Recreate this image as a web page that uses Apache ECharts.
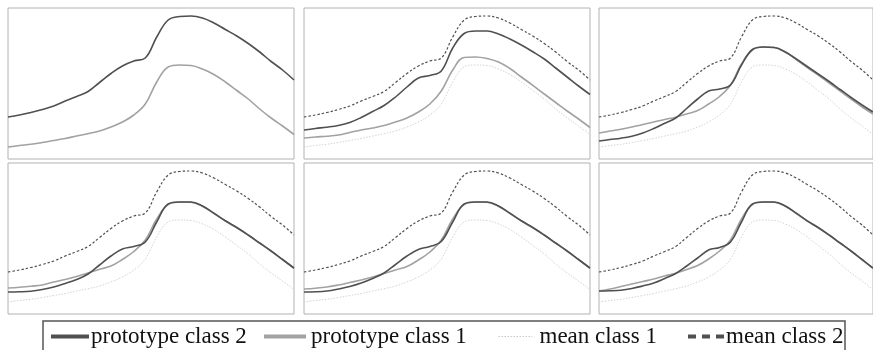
<!DOCTYPE html>
<html>
<head>
<meta charset="utf-8">
<script src="https://cdn.jsdelivr.net/npm/echarts@6.0.0/dist/echarts.min.js"></script>
<style>
  html, body { margin: 0; padding: 0; background: #fff; }
  #chart { width: 873px; height: 350px; }
</style>
</head>
<body>
<div id="chart"></div>
<script>
// sample positions along the signal (shared by all curves)
const xs = [0, 4, 8, 12, 16, 20, 24, 28, 32, 36, 40, 44, 48, 52, 56, 60, 64, 68, 72, 76, 80, 84, 88, 92, 96, 100];

// class means (fixed over all iterations)
const meanClass1 = [0.12, 0.135, 0.147, 0.165, 0.185, 0.205, 0.23, 0.253, 0.28, 0.32, 0.37, 0.44, 0.55, 0.77, 0.92, 0.94, 0.935, 0.90, 0.845, 0.77, 0.685, 0.60, 0.50, 0.41, 0.33, 0.245];
const meanClass2 = [0.42, 0.44, 0.465, 0.495, 0.53, 0.58, 0.625, 0.675, 0.765, 0.855, 0.93, 0.98, 1.01, 1.22, 1.39, 1.425, 1.43, 1.41, 1.36, 1.295, 1.23, 1.155, 1.07, 0.975, 0.89, 0.79];

// prototypes at each step (step 1 starts from the means)
const proto1Step1 = meanClass1;
const proto2Step1 = meanClass2;
const proto1Step2 = [0.21, 0.22, 0.228, 0.24, 0.265, 0.29, 0.31, 0.335, 0.37, 0.41, 0.47, 0.55, 0.68, 0.89, 1.015, 1.02, 1.005, 0.97, 0.905, 0.82, 0.737, 0.65, 0.565, 0.48, 0.40, 0.315];
const proto2Step2 = [0.29, 0.305, 0.318, 0.335, 0.365, 0.415, 0.475, 0.535, 0.62, 0.72, 0.81, 0.835, 0.88, 1.11, 1.255, 1.28, 1.28, 1.25, 1.20, 1.14, 1.073, 1.00, 0.91, 0.82, 0.73, 0.645];
const proto1Step3 = [0.26, 0.28, 0.298, 0.32, 0.345, 0.37, 0.395, 0.418, 0.45, 0.485, 0.55, 0.625, 0.74, 0.95, 1.09, 1.12, 1.115, 1.07, 0.995, 0.915, 0.838, 0.76, 0.678, 0.598, 0.52, 0.45];
const proto2Step3 = [0.18, 0.195, 0.208, 0.228, 0.26, 0.305, 0.357, 0.41, 0.505, 0.60, 0.68, 0.70, 0.74, 0.94, 1.095, 1.12, 1.115, 1.07, 1.00, 0.925, 0.85, 0.775, 0.695, 0.615, 0.54, 0.47];
const proto1Step4 = [0.26, 0.268, 0.278, 0.29, 0.32, 0.345, 0.375, 0.41, 0.447, 0.48, 0.545, 0.625, 0.74, 0.95, 1.095, 1.12, 1.117, 1.077, 1.005, 0.93, 0.862, 0.788, 0.708, 0.628, 0.543, 0.457];
const proto2Step4 = [0.22, 0.222, 0.228, 0.245, 0.27, 0.305, 0.345, 0.40, 0.49, 0.58, 0.65, 0.675, 0.72, 0.92, 1.10, 1.12, 1.12, 1.08, 1.008, 0.932, 0.865, 0.79, 0.71, 0.63, 0.545, 0.46];
const proto1Step5 = [0.25, 0.258, 0.27, 0.29, 0.315, 0.34, 0.37, 0.405, 0.44, 0.475, 0.54, 0.62, 0.74, 0.95, 1.095, 1.12, 1.117, 1.077, 1.005, 0.93, 0.862, 0.788, 0.708, 0.628, 0.543, 0.457];
const proto2Step5 = [0.22, 0.222, 0.23, 0.25, 0.275, 0.31, 0.355, 0.41, 0.495, 0.58, 0.645, 0.675, 0.725, 0.92, 1.10, 1.12, 1.12, 1.08, 1.008, 0.932, 0.865, 0.79, 0.71, 0.63, 0.545, 0.46];
const proto1Step6 = [0.23, 0.25, 0.275, 0.30, 0.325, 0.35, 0.38, 0.408, 0.445, 0.485, 0.55, 0.63, 0.74, 0.95, 1.095, 1.12, 1.117, 1.077, 1.005, 0.93, 0.862, 0.788, 0.708, 0.628, 0.543, 0.457];
const proto2Step6 = [0.23, 0.232, 0.238, 0.255, 0.28, 0.31, 0.355, 0.405, 0.48, 0.56, 0.64, 0.665, 0.72, 0.92, 1.10, 1.12, 1.12, 1.08, 1.008, 0.932, 0.865, 0.79, 0.71, 0.63, 0.545, 0.46];

const legendNames = ['prototype class 2', 'prototype class 1', 'mean class 1', 'mean class 2'];

const steps = [
  { p1: proto1Step1, p2: proto2Step1, means: false },
  { p1: proto1Step2, p2: proto2Step2, means: true },
  { p1: proto1Step3, p2: proto2Step3, means: true },
  { p1: proto1Step4, p2: proto2Step4, means: true },
  { p1: proto1Step5, p2: proto2Step5, means: true },
  { p1: proto1Step6, p2: proto2Step6, means: true }
];

const DARK = '#505050';
const LIGHT = '#a2a2a2';
const PALE = '#d4d4d4';
const FONT = 'Liberation Serif';

const pairs = vals => xs.map((x, i) => [x, vals[i]]);

// 2 x 3 panel layout
const cols = [8, 304, 599];
const rows = [8, 163];
const grids = [], xAxes = [], yAxes = [], series = [];

steps.forEach((st, k) => {
  grids.push({
    left: cols[k % 3], top: rows[Math.floor(k / 3)], width: 286, height: 151,
    show: true, borderColor: '#b2b2b2', borderWidth: 1, backgroundColor: 'transparent'
  });
  xAxes.push({ gridIndex: k, type: 'value', min: 0, max: 100, show: false });
  yAxes.push({ gridIndex: k, type: 'value', min: 0, max: 1.51, show: false });

  const base = { type: 'line', xAxisIndex: k, yAxisIndex: k, symbol: 'none', smooth: 0.4, silent: true, animation: false };
  if (st.means) {
    series.push(Object.assign({}, base, {
      name: 'mean class 1', data: pairs(meanClass1),
      lineStyle: { color: PALE, width: 1, type: [1.5, 1.5] }, itemStyle: { color: PALE }
    }));
    series.push(Object.assign({}, base, {
      name: 'mean class 2', data: pairs(meanClass2),
      lineStyle: { color: DARK, width: 1.2, type: [2.5, 2] }, itemStyle: { color: DARK }
    }));
  }
  series.push(Object.assign({}, base, {
    name: 'prototype class 1', data: pairs(st.p1),
    lineStyle: { color: LIGHT, width: 1.6 }, itemStyle: { color: LIGHT }
  }));
  series.push(Object.assign({}, base, {
    name: 'prototype class 2', data: pairs(st.p2),
    lineStyle: { color: DARK, width: 1.6 }, itemStyle: { color: DARK }
  }));
});

// one legend entry per slot along the bottom box
const legendSlots = [
  { left: 49, w: 38, pad: -3, line: { color: DARK, width: 4, type: 'solid' } },
  { left: 262, w: 42, pad: 0, line: { color: LIGHT, width: 4, type: 'solid' } },
  { left: 498, w: 34, pad: 2, line: { color: '#c8c8c8', width: 1, type: [1.5, 1.5] } },
  { left: 686, w: 36, pad: -3, line: { color: DARK, width: 4, type: [8, 6] } }
];
const legends = legendNames.map((name, i) => ({
  left: legendSlots[i].left, top: 325, padding: 0,
  itemWidth: legendSlots[i].w, itemHeight: 22, itemGap: 0,
  selectedMode: false,
  textStyle: { fontFamily: FONT, fontSize: 23, color: '#111', padding: [0, 0, 0, legendSlots[i].pad] },
  data: [{ name: name, lineStyle: legendSlots[i].line, itemStyle: { opacity: 0 } }]
}));

const chart = echarts.init(document.getElementById('chart'), null, { renderer: 'canvas' });
chart.setOption({
  animation: false,
  backgroundColor: '#fff',
  grid: grids,
  xAxis: xAxes,
  yAxis: yAxes,
  legend: legends,
  graphic: [{
    type: 'rect', silent: true,
    shape: { x: 43, y: 321, width: 802, height: 40 },
    style: { fill: 'none', stroke: '#555', lineWidth: 1.5 }
  }],
  series: series
});
</script>
</body>
</html>
